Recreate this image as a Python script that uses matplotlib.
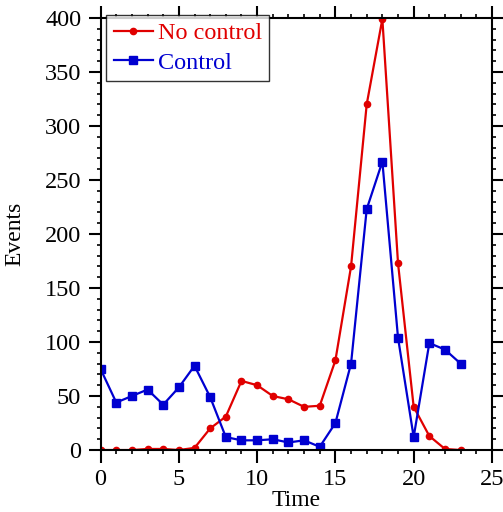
import numpy as np
import matplotlib.pyplot as plt

plt.rcParams['font.family'] = 'Liberation Serif'

# hourly event counts
time = np.arange(24)
no_control = [0, 0, 0, 1, 1, 0, 2, 20, 31, 64, 60, 50, 47, 40, 41,
              83, 170, 320, 399, 173, 40, 13, 1, 0]
control = [75, 44, 50, 56, 42, 58, 78, 49, 12, 9, 9, 10, 7, 9, 3,
           25, 80, 223, 267, 104, 12, 99, 93, 80]

fig = plt.figure(figsize=(5.03, 5.12), dpi=100)
ax = fig.add_axes([0.2, 0.121, 0.778, 0.844])

ax.plot(time, no_control, color='#e00000', marker='o', markersize=4.5, lw=1.6, label='No control')
ax.plot(time, control, color='#0000d0', marker='s', markersize=6, lw=1.6, label='Control')

ax.set_xlim(0, 25)
ax.set_ylim(0, 400)
ax.set_xticks(range(0, 26, 5))
ax.set_yticks(range(0, 401, 50))
ax.set_xticks(range(0, 26), minor=True)
ax.set_yticks(range(0, 401, 10), minor=True)
ax.tick_params(which='both', direction='out', top=True, right=True, labelsize=17.5)
ax.tick_params(which='major', length=9, width=1.5)
ax.tick_params(axis='y', which='major', pad=5)
ax.tick_params(axis='x', which='major', pad=5)
ax.tick_params(which='minor', length=3, width=1.2)
for s in ax.spines.values():
    s.set_linewidth(1.5)

ax.set_xlabel('Time', fontsize=17, labelpad=0)
ax.set_ylabel('Events', fontsize=17, labelpad=14)

leg = ax.legend(loc='upper left', bbox_to_anchor=(0.015, 1.007), fontsize=17.5,
                fancybox=False, edgecolor='black', handlelength=1.6,
                handletextpad=0.2, borderaxespad=0, borderpad=0.3,
                labelspacing=0.3)
leg.get_frame().set_linewidth(1)
for t, c in zip(leg.get_texts(), ['#e00000', '#0000d0']):
    t.set_color(c)

fig.savefig('out.png')
